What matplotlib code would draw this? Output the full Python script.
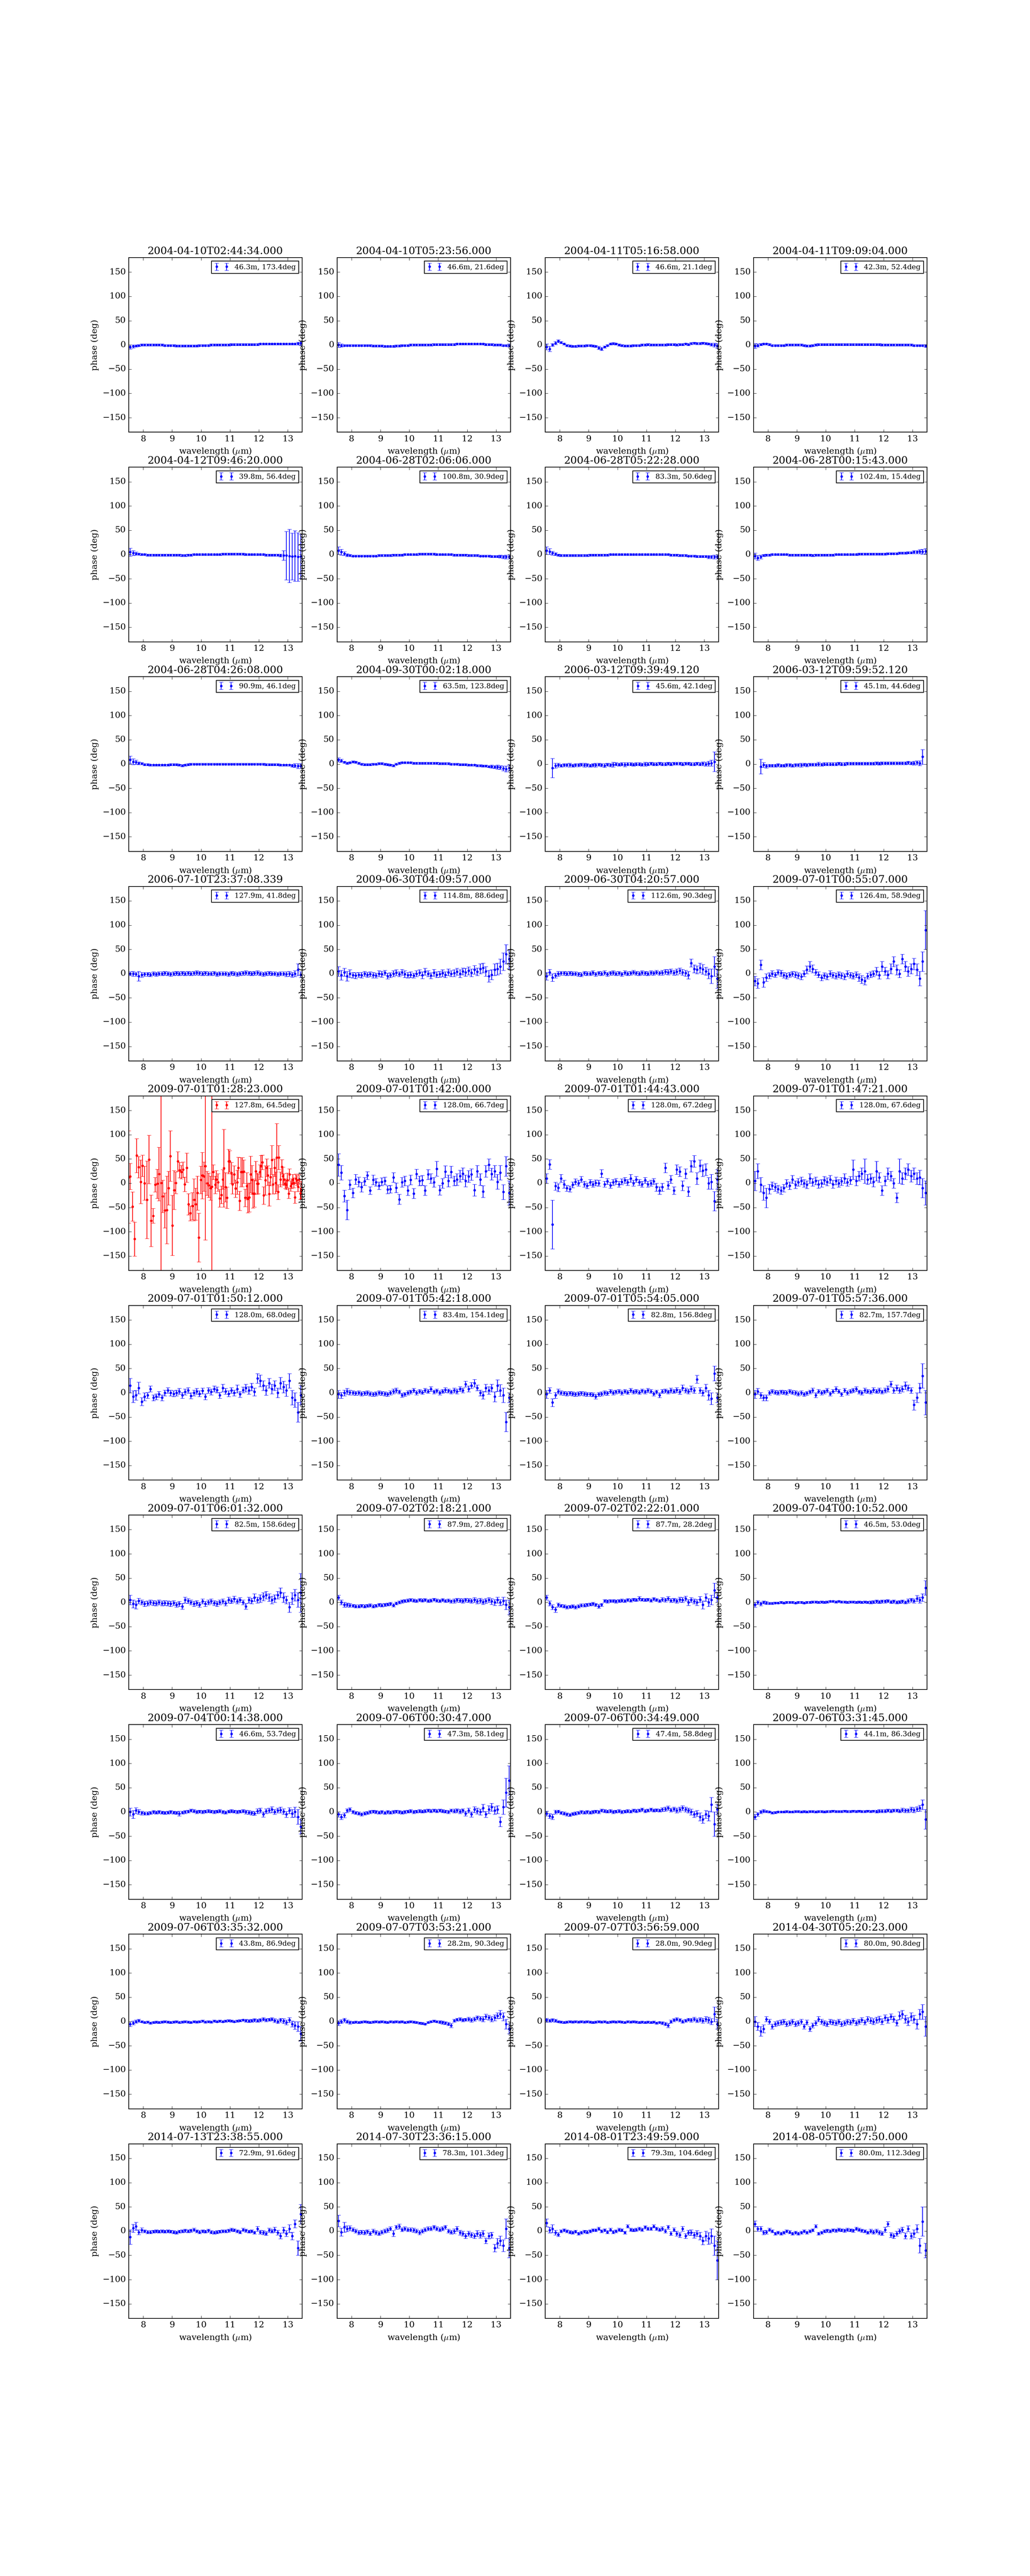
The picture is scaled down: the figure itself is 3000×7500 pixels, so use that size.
import numpy as np
import matplotlib
matplotlib.use("Agg")
import matplotlib.pyplot as plt

plt.style.use("classic")
plt.rcParams["font.family"] = "serif"
plt.rcParams["font.serif"] = ["DejaVu Serif"]
plt.rcParams["mathtext.fontset"] = "cm"

# titles (observation time) and legend labels (baseline, PA)
titles = [
    "2004-04-10T02:44:34.000", "2004-04-10T05:23:56.000", "2004-04-11T05:16:58.000", "2004-04-11T09:09:04.000",
    "2004-04-12T09:46:20.000", "2004-06-28T02:06:06.000", "2004-06-28T05:22:28.000", "2004-06-28T00:15:43.000",
    "2004-06-28T04:26:08.000", "2004-09-30T00:02:18.000", "2006-03-12T09:39:49.120", "2006-03-12T09:59:52.120",
    "2006-07-10T23:37:08.339", "2009-06-30T04:09:57.000", "2009-06-30T04:20:57.000", "2009-07-01T00:55:07.000",
    "2009-07-01T01:28:23.000", "2009-07-01T01:42:00.000", "2009-07-01T01:44:43.000", "2009-07-01T01:47:21.000",
    "2009-07-01T01:50:12.000", "2009-07-01T05:42:18.000", "2009-07-01T05:54:05.000", "2009-07-01T05:57:36.000",
    "2009-07-01T06:01:32.000", "2009-07-02T02:18:21.000", "2009-07-02T02:22:01.000", "2009-07-04T00:10:52.000",
    "2009-07-04T00:14:38.000", "2009-07-06T00:30:47.000", "2009-07-06T00:34:49.000", "2009-07-06T03:31:45.000",
    "2009-07-06T03:35:32.000", "2009-07-07T03:53:21.000", "2009-07-07T03:56:59.000", "2014-04-30T05:20:23.000",
    "2014-07-13T23:38:55.000", "2014-07-30T23:36:15.000", "2014-08-01T23:49:59.000", "2014-08-05T00:27:50.000",
]
labels = [
    "46.3m, 173.4deg", "46.6m, 21.6deg", "46.6m, 21.1deg", "42.3m, 52.4deg",
    "39.8m, 56.4deg", "100.8m, 30.9deg", "83.3m, 50.6deg", "102.4m, 15.4deg",
    "90.9m, 46.1deg", "63.5m, 123.8deg", "45.6m, 42.1deg", "45.1m, 44.6deg",
    "127.9m, 41.8deg", "114.8m, 88.6deg", "112.6m, 90.3deg", "126.4m, 58.9deg",
    "127.8m, 64.5deg", "128.0m, 66.7deg", "128.0m, 67.2deg", "128.0m, 67.6deg",
    "128.0m, 68.0deg", "83.4m, 154.1deg", "82.8m, 156.8deg", "82.7m, 157.7deg",
    "82.5m, 158.6deg", "87.9m, 27.8deg", "87.7m, 28.2deg", "46.5m, 53.0deg",
    "46.6m, 53.7deg", "47.3m, 58.1deg", "47.4m, 58.8deg", "44.1m, 86.3deg",
    "43.8m, 86.9deg", "28.2m, 90.3deg", "28.0m, 90.9deg", "80.0m, 90.8deg",
    "72.9m, 91.6deg", "78.3m, 101.3deg", "79.3m, 104.6deg", "80.0m, 112.3deg",
]

# common wavelength grid (micron)
wl = [7.55, 7.65, 7.75, 7.85, 7.95, 8.05, 8.15, 8.25, 8.35, 8.45,
      8.55, 8.65, 8.75, 8.85, 8.95, 9.05, 9.15, 9.25, 9.35, 9.45,
      9.55, 9.65, 9.75, 9.85, 9.95, 10.05, 10.15, 10.25, 10.35, 10.45,
      10.55, 10.65, 10.75, 10.85, 10.95, 11.05, 11.15, 11.25, 11.35, 11.45,
      11.55, 11.65, 11.75, 11.85, 11.95, 12.05, 12.15, 12.25, 12.35, 12.45,
      12.55, 12.65, 12.75, 12.85, 12.95, 13.05, 13.15, 13.25, 13.35, 13.45]

# the one flagged (red) observation has its own sampling
wl_red = [7.50, 7.55, 7.63, 7.70, 7.77, 7.84, 7.92, 7.98, 8.05, 8.13, 8.20,
          8.27, 8.34, 8.41, 8.48, 8.54, 8.62, 8.68, 8.75, 8.82, 8.88,
          8.94, 9.01, 9.07, 9.13, 9.20, 9.26, 9.32, 9.38, 9.44, 9.51,
          9.57, 9.63, 9.70, 9.76, 9.81, 9.87, 9.92, 9.99, 10.04, 10.10,
          10.15, 10.21, 10.27, 10.32, 10.37, 10.42, 10.49, 10.53, 10.59, 10.64,
          10.70, 10.75, 10.79, 10.85, 10.89, 10.95, 10.99, 11.05, 11.09, 11.15,
          11.19, 11.25, 11.29, 11.34, 11.38, 11.43, 11.48, 11.53, 11.58, 11.62,
          11.67, 11.71, 11.76, 11.80, 11.85, 11.89, 11.94, 11.98, 12.03, 12.07,
          12.12, 12.17, 12.22, 12.27, 12.31, 12.36, 12.40, 12.45, 12.49, 12.54,
          12.58, 12.62, 12.66, 12.69, 12.75, 12.79, 12.83, 12.86, 12.91, 12.95,
          12.99, 13.03, 13.06, 13.10, 13.14, 13.17, 13.21, 13.25, 13.28, 13.32,
          13.35, 13.39, 13.43, 13.46]
phase_red = [13, 14, -48, -115, 57, 33, 3, 36, 0, -34, 49,
             -77, -67, -3, -1, 19, 1, -27, -56, -55, -10,
             56, -87, -14, 1, 45, 27, 23, 28, -2, 32,
             -43, -62, -47, -34, -43, -20, -112, 7, 16, 14,
             35, 0, -4, -10, -7, 23, -3, 8, 2, -31,
             -24, 8, 31, -8, -30, 45, 45, 21, -2, 18,
             -11, 2, 32, -36, 23, 23, 24, -30, -6, -31,
             -29, 18, 7, -21, -21, 25, -1, -1, 23, 35,
             43, -25, 6, 32, 16, -22, 13, 48, -2, 32,
             1, 53, -18, 53, 8, 34, 15, 8, -1, -3,
             6, -21, 18, -6, -1, 8, 1, -29, 9, 6,
             -7, 8, -21, -14]
err_red = [95, 27, 30, 35, 35, 22, 45, 22, 35, 80, 50,
           53, 15, 15, 30, 55, 500, 33, 36, 70, 35,
           52, 62, 40, 22, 20, 16, 14, 16, 15, 30,
           22, 15, 28, 43, 33, 35, 50, 28, 48, 30,
           152, 25, 25, 25, 500, 15, 18, 18, 18, 18,
           18, 20, 80, 30, 22, 25, 22, 22, 20, 18,
           18, 25, 22, 20, 30, 30, 24, 18, 28, 30,
           30, 38, 30, 30, 28, 20, 22, 20, 15, 22,
           15, 18, 30, 18, 20, 25, 18, 30, 20, 18,
           22, 70, 15, 25, 15, 15, 18, 12, 10, 10,
           15, 10, 12, 10, 10, 10, 10, 12, 10, 10,
           10, 10, 12, 18]

# phase (deg) and error per observation, on the common grid
phase_01 = [-4, -3, -2, -1, 0, 0, 0, 0, 0, 0,
            0, 0, -1, -1, -1, -1, -2, -2, -2, -2,
            -2, -2, -2, -2, -1, -1, -1, -1, 0, 0,
            0, 0, 0, 0, 0, 1, 1, 1, 1, 1,
            1, 1, 1, 1, 1, 2, 2, 2, 2, 2,
            2, 2, 2, 2, 2, 2, 2, 2, 3, 4]
err_01 = [4, 3, 2, 2, 2, 2, 2, 2, 2, 2,
          2, 2, 2, 2, 2, 2, 2, 2, 2, 2,
          2, 2, 2, 2, 2, 2, 2, 2, 2, 2,
          2, 2, 2, 2, 2, 2, 2, 2, 2, 2,
          2, 2, 2, 2, 2, 2, 2, 2, 2, 2,
          2, 2, 2, 2, 2, 2, 2, 2, 3, 5]
phase_02 = [0, -1, -1, -1, -1, -1, -1, -1, -1, -1,
            -1, -1, -2, -2, -2, -2, -3, -3, -3, -3,
            -2, -2, -1, -1, -1, 0, 0, 0, 0, 0,
            0, 0, 0, 1, 1, 1, 1, 1, 1, 1,
            1, 2, 2, 2, 2, 2, 2, 2, 2, 2,
            2, 1, 1, 1, 0, 0, 0, -1, -1, -1]
err_02 = [5, 3, 2, 2, 2, 2, 2, 2, 2, 2,
          2, 2, 2, 2, 2, 2, 2, 2, 2, 2,
          2, 2, 2, 2, 2, 2, 2, 2, 2, 2,
          2, 2, 2, 2, 2, 2, 2, 2, 2, 2,
          2, 2, 2, 2, 2, 2, 2, 2, 2, 2,
          2, 2, 2, 2, 2, 2, 2, 2, 2, 3]
phase_03 = [-4, -8, 0, 4, 8, 5, 2, -1, -2, -3,
            -3, -2, -2, -2, -1, -1, -2, -3, -6, -8,
            -4, -1, 2, 3, 2, 0, -1, -2, -2, -2,
            -1, -1, -1, 0, 0, 1, 0, 0, 0, 0,
            0, 0, 1, 1, 1, 0, 1, 1, 2, 1,
            3, 4, 3, 3, 4, 3, 2, 1, 0, -2]
err_03 = [6, 5, 3, 3, 3, 2, 2, 2, 2, 2,
          2, 2, 2, 2, 2, 2, 2, 2, 3, 3,
          2, 2, 2, 2, 2, 2, 2, 2, 2, 2,
          2, 2, 2, 2, 2, 2, 2, 2, 2, 2,
          2, 2, 2, 2, 2, 2, 2, 2, 2, 2,
          2, 2, 2, 2, 2, 2, 2, 3, 4, 5]
phase_04 = [-2, -1, 1, 2, 2, 1, -1, -1, -1, -1,
            -1, 0, 0, 0, 0, 0, 0, -1, -2, -2,
            -1, 0, 1, 1, 1, 1, 1, 1, 1, 1,
            1, 1, 1, 1, 1, 1, 1, 1, 1, 1,
            1, 1, 1, 1, 0, 0, 0, 0, 0, 0,
            0, 0, 0, 0, 0, -1, -1, -1, -1, -2]
err_04 = [5, 3, 2, 2, 2, 2, 2, 2, 2, 2,
          2, 2, 2, 2, 2, 2, 2, 2, 2, 2,
          2, 2, 2, 2, 2, 2, 2, 2, 2, 2,
          2, 2, 2, 2, 2, 2, 2, 2, 2, 2,
          2, 2, 2, 2, 2, 2, 2, 2, 2, 2,
          2, 2, 2, 2, 2, 2, 2, 2, 2, 3]
phase_05 = [5, 3, 2, 1, 0, 0, -1, -1, -1, -1,
            -1, -1, -1, -1, -1, -1, -1, -1, -2, -2,
            -1, -1, 0, 0, 0, 0, 0, 0, 0, 0,
            0, 0, 1, 1, 1, 1, 1, 1, 1, 1,
            0, 0, 0, 0, 0, 0, 0, -1, -1, -1,
            -1, -1, -2, -2, -2, -3, -4, -3, -5, -4]
err_05 = [8, 5, 3, 2, 2, 2, 2, 2, 2, 2,
          2, 2, 2, 2, 2, 2, 2, 2, 2, 2,
          2, 2, 2, 2, 2, 2, 2, 2, 2, 2,
          2, 2, 2, 2, 2, 2, 2, 2, 2, 2,
          2, 2, 2, 2, 2, 2, 2, 2, 2, 2,
          2, 2, 3, 10, 50, 55, 48, 52, 50, 45]
phase_06 = [8, 5, 2, -1, -2, -3, -3, -3, -3, -3,
            -3, -3, -3, -3, -2, -2, -2, -2, -2, -1,
            -1, -1, -1, 0, 0, 0, 0, 0, 1, 1,
            1, 1, 1, 1, 0, 0, 0, 0, 0, 0,
            -1, -1, -1, -1, -1, -2, -2, -2, -2, -3,
            -3, -3, -3, -4, -4, -4, -4, -5, -5, -5]
err_06 = [8, 6, 4, 3, 2, 2, 2, 2, 2, 2,
          2, 2, 2, 2, 2, 2, 2, 2, 2, 2,
          2, 2, 2, 2, 2, 2, 2, 2, 2, 2,
          2, 2, 2, 2, 2, 2, 2, 2, 2, 2,
          2, 2, 2, 2, 2, 2, 2, 2, 2, 2,
          2, 2, 2, 2, 2, 2, 3, 3, 4, 4]
phase_07 = [8, 6, 3, 1, -1, -2, -2, -2, -2, -2,
            -2, -2, -2, -2, -2, -1, -1, -1, -1, -1,
            -1, -1, 0, 0, 0, 0, 0, 0, 0, 0,
            0, 0, 0, 0, 0, 0, 0, 0, 0, 0,
            0, 0, 0, -1, -1, -1, -2, -2, -2, -3,
            -3, -3, -4, -4, -4, -4, -5, -5, -5, -5]
err_07 = [8, 6, 4, 3, 2, 2, 2, 2, 2, 2,
          2, 2, 2, 2, 2, 2, 2, 2, 2, 2,
          2, 2, 2, 2, 2, 2, 2, 2, 2, 2,
          2, 2, 2, 2, 2, 2, 2, 2, 2, 2,
          2, 2, 2, 2, 2, 2, 2, 2, 2, 2,
          2, 2, 2, 2, 2, 2, 3, 3, 4, 4]
phase_08 = [-3, -7, -5, -2, -1, -1, 0, 0, 0, 0,
            0, 0, -1, -1, -1, -1, -1, -1, -1, -1,
            -2, -1, -1, -1, -1, -1, -1, -1, 0, 0,
            0, 0, 0, 0, 0, 0, 1, 1, 1, 1,
            1, 1, 1, 1, 1, 1, 2, 2, 2, 2,
            3, 3, 3, 4, 4, 5, 5, 6, 6, 7]
err_08 = [6, 5, 4, 2, 2, 2, 2, 2, 2, 2,
          2, 2, 2, 2, 2, 2, 2, 2, 2, 2,
          2, 2, 2, 2, 2, 2, 2, 2, 2, 2,
          2, 2, 2, 2, 2, 2, 2, 2, 2, 2,
          2, 2, 2, 2, 2, 2, 2, 2, 2, 2,
          2, 2, 2, 2, 2, 3, 3, 4, 5, 5]
phase_09 = [9, 5, 4, 2, 1, -1, -1, -2, -2, -2,
            -2, -2, -2, -2, -1, -1, -1, -2, -3, -2,
            -1, 0, 0, 0, 0, 0, 0, 0, 0, 0,
            0, 0, 0, 0, 0, 0, 0, 0, 0, 0,
            0, 0, 0, 0, 0, 0, 0, -1, -1, -1,
            -1, -1, -2, -2, -2, -2, -3, -3, -4, -4]
err_09 = [8, 6, 4, 3, 2, 2, 2, 2, 2, 2,
          2, 2, 2, 2, 2, 2, 2, 2, 2, 2,
          2, 2, 2, 2, 2, 2, 2, 2, 2, 2,
          2, 2, 2, 2, 2, 2, 2, 2, 2, 2,
          2, 2, 2, 2, 2, 2, 2, 2, 2, 2,
          2, 2, 2, 2, 2, 2, 3, 4, 5, 5]
phase_10 = [9, 7, 4, 2, 3, 5, 4, 2, 0, -1,
            -1, -1, 0, 0, 1, 1, 0, -1, -2, -3,
            0, 2, 3, 3, 3, 3, 2, 2, 2, 2,
            2, 2, 2, 2, 2, 1, 1, 1, 1, 0,
            0, 0, -1, -1, -1, -2, -2, -2, -3, -3,
            -4, -4, -5, -5, -6, -6, -7, -9, -10, -8]
err_10 = [4, 3, 2, 2, 2, 2, 2, 2, 2, 2,
          2, 2, 2, 2, 2, 2, 2, 2, 2, 2,
          2, 2, 2, 2, 2, 2, 2, 2, 2, 2,
          2, 2, 2, 2, 2, 2, 2, 2, 2, 2,
          2, 2, 2, 2, 2, 2, 2, 2, 2, 2,
          2, 2, 2, 3, 3, 4, 4, 5, 6, 6]
phase_11 = [None, None, -8, -3, -2, -3, -2, -2, -2, -3,
            -2, -2, -1, -2, -2, -3, -2, -2, -1, -2,
            -3, -1, -2, -1, 0, -1, 0, -1, 0, 0,
            -1, 0, 0, -1, 0, 0, 1, 0, 0, 1,
            0, 0, 1, 0, 1, 1, 1, 0, 1, 1,
            0, 0, 1, 0, 1, 0, 1, 2, 5, None]
err_11 = [0, 0, 20, 5, 4, 3, 3, 3, 4, 3,
          3, 3, 3, 4, 3, 3, 3, 4, 3, 3,
          4, 3, 3, 5, 3, 3, 3, 4, 3, 3,
          3, 3, 3, 3, 4, 3, 3, 3, 3, 3,
          3, 3, 3, 3, 3, 3, 3, 3, 3, 3,
          3, 3, 3, 3, 4, 4, 5, 6, 20, 0]
phase_12 = [None, None, -5, -2, -4, -3, -3, -3, -2, -3,
            -3, -2, -2, -3, -2, -2, -2, -1, -2, -1,
            -1, -1, 0, -1, 0, 0, 0, 0, 0, 1,
            0, 0, 1, 1, 1, 1, 1, 1, 1, 1,
            1, 1, 2, 1, 2, 2, 2, 2, 2, 2,
            2, 2, 2, 3, 2, 2, 3, 2, 15, None]
err_12 = [0, 0, 15, 5, 4, 3, 3, 3, 3, 3,
          3, 3, 3, 3, 3, 3, 4, 3, 3, 3,
          3, 3, 4, 3, 3, 3, 3, 3, 3, 3,
          3, 3, 3, 3, 3, 3, 3, 3, 3, 3,
          3, 3, 3, 3, 3, 3, 3, 3, 3, 3,
          3, 3, 3, 3, 3, 4, 4, 5, 15, 0]
phase_13 = [0, 0, -1, -5, -2, -1, -1, -2, 0, -1,
            0, 0, 1, 0, -1, 0, 1, 0, 1, 0,
            1, 0, 1, 2, 1, 0, 1, 0, 0, 1,
            -1, 0, 0, 0, -1, 1, 0, -1, 0, 1,
            2, 1, 0, 1, 2, 0, -1, 0, 1, 0,
            0, -1, 0, 0, -1, 0, -2, 0, 8, -2]
err_13 = [4, 5, 4, 10, 5, 4, 4, 4, 4, 4,
          4, 4, 4, 4, 4, 4, 4, 4, 4, 4,
          4, 4, 4, 4, 4, 4, 4, 4, 4, 4,
          4, 4, 4, 4, 4, 4, 4, 4, 4, 4,
          4, 4, 4, 4, 4, 4, 4, 4, 4, 4,
          4, 4, 4, 4, 5, 5, 5, 6, 12, 6]
phase_14 = [5, -3, 3, -5, 0, -3, -4, -2, -3, 0,
            -2, -1, -3, -4, 0, -1, 2, -5, -3, 0,
            2, -1, 3, -1, -3, -2, -4, 0, 2, -3,
            4, 0, -4, 2, -2, -1, 1, -2, 3, 0,
            1, 4, 0, 5, 3, 6, 2, 8, 4, 10,
            12, 5, -5, -2, 8, 10, 15, 25, 40, 30]
err_14 = [10, 10, 8, 10, 8, 6, 6, 5, 6, 5,
          5, 5, 6, 5, 6, 6, 5, 6, 5, 6,
          6, 5, 6, 7, 6, 6, 5, 6, 6, 7,
          7, 6, 6, 7, 6, 6, 7, 6, 7, 6,
          7, 7, 8, 7, 8, 8, 8, 9, 8, 10,
          10, 10, 12, 10, 12, 12, 15, 18, 20, 20]
phase_15 = [-5, 3, -8, -4, 0, 1, 1, 0, 1, 0,
            0, -1, -2, 1, 0, 0, 2, -1, 1, 0,
            2, -1, 1, 2, 0, 1, -1, 2, 0, 1,
            3, 1, 0, 2, 1, 0, 2, 1, 3, 1,
            2, 4, 3, 5, 2, 4, 6, 3, 1, -3,
            22, 10, 8, 12, 9, 5, 0, -5, 15, -10]
err_15 = [8, 6, 8, 5, 5, 4, 4, 4, 4, 4,
          4, 4, 4, 4, 4, 4, 4, 4, 4, 4,
          4, 4, 4, 4, 4, 4, 4, 4, 4, 4,
          4, 4, 4, 4, 4, 4, 4, 4, 4, 4,
          5, 5, 5, 5, 5, 6, 6, 6, 6, 8,
          8, 8, 8, 10, 10, 8, 10, 15, 20, 20]
phase_16 = [-15, -20, 18, -18, -8, -4, 0, -2, 3, 1,
            -3, -5, -2, 0, -2, -4, -6, 0, 8, 15,
            10, 3, -2, -8, -4, -6, 0, -3, -5, -2,
            -4, -6, 0, -3, -5, -2, -8, -12, -15, -5,
            -2, 0, 5, -3, 15, 5, -2, 10, 25, 8,
            0, 30, 15, 5, 10, 20, 8, -10, 25, 90]
err_16 = [10, 10, 10, 10, 8, 6, 6, 5, 5, 6,
          6, 6, 5, 5, 6, 6, 6, 6, 8, 10,
          8, 6, 6, 6, 6, 6, 6, 6, 6, 6,
          6, 6, 6, 6, 6, 6, 8, 8, 8, 6,
          6, 6, 8, 8, 10, 8, 8, 10, 10, 10,
          8, 10, 10, 10, 10, 12, 12, 15, 20, 40]
phase_18 = [38, 22, -26, -55, -3, -20, 8, 3, -8, 4,
            16, -15, 7, 2, -5, 3, 5, -13, -12, 12,
            -9, -33, 2, 5, -15, 7, -21, 19, 5, 6,
            -15, 18, 10, 2, 30, -14, 0, 24, 5, 23,
            5, 8, 15, 20, 5, 14, 18, -14, 25, 8,
            -17, 25, 38, 19, 25, 3, 22, -18, 35, -20]
err_18 = [23, 15, 12, 20, 10, 10, 10, 10, 10, 8,
          8, 8, 10, 8, 8, 8, 8, 8, 8, 10,
          10, 10, 10, 10, 10, 10, 10, 10, 10, 10,
          10, 10, 10, 10, 15, 10, 10, 12, 12, 12,
          10, 12, 12, 12, 12, 12, 12, 12, 12, 12,
          12, 12, 12, 12, 12, 15, 15, 15, 20, 25]
phase_19 = [10, 39, -85, -6, -9, 10, -2, -10, -12, -3,
            3, 0, 8, -2, -5, 2, -2, 1, 0, 20,
            -2, 4, -4, 2, 4, -2, 3, 6, 2, 10,
            0, 8, 2, -2, 6, -2, 0, 4, -8, -15,
            -8, 32, -4, 8, -15, 28, 24, -5, 20, -17,
            35, 45, 10, 36, 26, 28, 0, 3, -37, 8]
err_19 = [10, 10, 50, 8, 8, 8, 8, 6, 6, 6,
          6, 6, 6, 6, 6, 6, 6, 6, 6, 8,
          6, 6, 6, 6, 6, 6, 6, 6, 6, 8,
          6, 6, 6, 6, 6, 6, 6, 6, 8, 8,
          8, 10, 8, 8, 8, 10, 10, 10, 10, 10,
          12, 12, 12, 12, 12, 12, 12, 15, 20, 20]
phase_20 = [5, 25, -3, -20, -30, -12, -5, -8, -12, -15,
            -10, 0, -5, 8, -3, 2, 5, 0, -3, 10,
            2, 5, -2, 0, 6, 3, 8, -2, 5, 0,
            4, 10, 2, 6, 28, 5, 15, 20, 25, 8,
            10, 3, 25, 12, -15, 5, 20, 15, 0, -30,
            25, 10, 20, 28, 15, 20, 10, 12, -10, -20]
err_20 = [20, 15, 15, 15, 20, 10, 8, 8, 8, 8,
          8, 8, 8, 8, 8, 8, 8, 8, 8, 10,
          8, 8, 8, 8, 8, 8, 8, 8, 8, 8,
          8, 10, 8, 8, 20, 10, 10, 12, 25, 10,
          10, 10, 20, 10, 10, 10, 12, 10, 10, 10,
          25, 12, 12, 12, 12, 12, 12, 15, 20, 25]
phase_21 = [15, -8, -5, 10, -18, -8, -5, 8, -10, -8,
            -3, -10, 0, 5, 0, -2, 0, 3, -5, 2,
            5, -6, 0, 3, -2, 4, -8, 5, 2, 8,
            6, -5, 10, 3, -2, 5, 0, 8, -3, 6,
            10, 5, 12, 2, 30, 25, 15, 5, 20, 8,
            15, 0, 20, 12, 5, 25, -10, -15, -40, -5]
err_21 = [15, 12, 10, 12, 8, 8, 6, 6, 6, 6,
          6, 6, 6, 6, 6, 6, 6, 6, 6, 6,
          6, 6, 6, 6, 6, 6, 6, 6, 6, 6,
          6, 6, 8, 6, 6, 6, 6, 8, 6, 6,
          8, 8, 8, 8, 10, 12, 10, 10, 10, 10,
          10, 10, 12, 12, 12, 15, 15, 15, 20, 20]
phase_22 = [-3, -5, 0, 3, 1, 0, -1, 0, -2, -1,
            0, -2, -3, -2, 0, -1, -2, -3, 0, 3,
            5, 2, -5, -3, 0, 2, 5, 0, 3, 1,
            5, 3, 8, 2, 4, 0, 3, 6, 4, 2,
            5, 3, 8, 5, 18, 8, 15, 20, 10, 0,
            -5, 10, 5, 10, -8, 15, 5, -5, -60, -10]
err_22 = [8, 6, 6, 6, 5, 4, 4, 4, 4, 4,
          4, 4, 4, 4, 4, 4, 4, 4, 4, 5,
          5, 4, 4, 4, 4, 4, 4, 4, 4, 4,
          4, 4, 5, 4, 4, 4, 4, 5, 4, 4,
          5, 5, 5, 5, 6, 6, 6, 8, 6, 6,
          8, 8, 8, 8, 10, 12, 12, 15, 20, 10]
phase_23 = [-3, 5, -20, -5, 3, 0, -1, -2, -1, -2,
            -3, -2, -1, -2, -3, -3, -4, -8, -3, -2,
            0, -1, 3, 0, 2, 3, 0, 3, 1, 5,
            2, 3, 1, 4, 2, 5, 3, -2, 2, -5,
            3, 4, 2, 5, 3, 6, 2, 10, 5, 3,
            8, 5, 28, 5, 0, 10, -5, -12, 40, -10]
err_23 = [8, 6, 8, 6, 5, 4, 4, 4, 4, 4,
          4, 4, 4, 4, 4, 4, 4, 5, 4, 4,
          4, 4, 4, 4, 4, 4, 4, 4, 4, 4,
          4, 4, 4, 4, 4, 4, 4, 4, 4, 5,
          4, 4, 4, 5, 4, 5, 5, 6, 5, 5,
          6, 6, 8, 6, 6, 8, 10, 12, 15, 10]
phase_24 = [-3, 3, -5, -10, -10, 0, 3, 1, 0, 2,
            1, 0, 3, 1, 0, -2, 0, -3, -1, 2,
            5, -5, 3, 0, 2, 5, -2, 3, 8, 3,
            -3, 5, 0, 3, 5, 8, 2, 0, 5, 3,
            2, 6, 3, 5, 2, 5, 8, 18, 5, 10,
            5, 8, 15, 10, 5, -25, -10, 10, 35, -20]
err_24 = [8, 6, 6, 6, 6, 4, 4, 4, 4, 4,
          4, 4, 4, 4, 4, 4, 4, 4, 4, 4,
          5, 5, 4, 4, 4, 4, 4, 4, 5, 4,
          4, 4, 4, 4, 4, 5, 4, 4, 5, 4,
          4, 5, 4, 5, 4, 5, 6, 6, 6, 6,
          6, 6, 8, 6, 6, 10, 10, 10, 25, 25]
phase_25 = [5, -3, -5, 3, 0, -3, -2, 0, -1, -2,
            0, -2, -1, -2, -3, -1, -5, -3, -8, 5,
            3, 0, -3, -1, -5, 2, -3, 0, 2, -1,
            -3, 0, 2, -2, 5, 3, 7, 2, 5, 0,
            -8, 5, 3, 10, 5, 8, 12, 15, 10, 5,
            8, 15, 20, 10, 5, -10, 8, 15, 5, 20]
err_25 = [10, 8, 8, 6, 5, 5, 5, 5, 5, 5,
          5, 5, 5, 5, 5, 5, 5, 5, 6, 6,
          5, 5, 5, 5, 5, 5, 5, 5, 5, 5,
          5, 5, 5, 5, 6, 5, 6, 5, 5, 5,
          6, 6, 6, 8, 6, 8, 8, 8, 8, 8,
          8, 8, 10, 10, 8, 10, 12, 12, 15, 40]
phase_26 = [10, 0, -5, -5, -6, -7, -8, -8, -7, -8,
            -7, -6, -8, -7, -5, -6, -5, -4, -3, -6,
            -2, 0, 2, 3, 4, 5, 4, 3, 5, 4,
            5, 3, 4, 6, 4, 3, 5, 3, 4, 2,
            3, 5, 4, 3, 5, 4, 3, 5, 2, 4,
            1, 3, 5, 2, 0, 5, 0, 3, -5, -10]
err_26 = [5, 5, 5, 4, 4, 3, 3, 3, 3, 3,
          3, 3, 3, 3, 3, 3, 3, 3, 3, 3,
          3, 3, 3, 3, 3, 3, 3, 3, 3, 3,
          3, 3, 3, 3, 3, 3, 3, 3, 3, 3,
          4, 4, 4, 4, 4, 4, 4, 5, 5, 5,
          5, 5, 5, 6, 6, 6, 6, 8, 10, 15]
phase_27 = [10, -2, -10, -15, -5, -7, -8, -10, -9, -8,
            -10, -8, -6, -6, -5, -4, -3, -5, -8, -5,
            3, 2, 3, 3, 2, 3, 4, 3, 5, 4,
            6, 5, 8, 6, 5, 6, 4, 7, 5, 3,
            6, 5, 8, 4, 5, 3, 6, 5, 8, 0,
            5, 2, 0, 6, -5, 10, 0, 5, 25, 10]
err_27 = [5, 5, 5, 5, 4, 3, 3, 3, 3, 3,
          3, 3, 3, 3, 3, 3, 3, 3, 4, 3,
          3, 3, 3, 3, 3, 3, 3, 3, 3, 3,
          3, 3, 4, 3, 3, 3, 3, 3, 3, 3,
          4, 4, 4, 4, 4, 4, 5, 5, 5, 6,
          5, 5, 6, 6, 8, 8, 8, 10, 15, 10]
phase_28 = [-5, 0, -3, 0, -1, -2, -2, -1, -1, 0,
            -1, 0, 0, 0, -1, 0, 0, -1, 0, 0,
            1, 1, 0, 1, 0, 1, 2, 2, 1, 2,
            1, 1, 0, 1, 1, 0, 1, 0, 1, 0,
            0, 1, 2, 1, 2, 2, 3, 1, 2, 0,
            1, 2, 0, 3, 5, 3, 8, 5, 10, 30]
err_28 = [5, 4, 4, 3, 3, 2, 2, 2, 2, 2,
          2, 2, 2, 2, 2, 2, 2, 2, 2, 2,
          2, 2, 2, 2, 2, 2, 2, 2, 2, 2,
          2, 2, 2, 2, 2, 2, 2, 2, 2, 2,
          3, 3, 3, 3, 3, 3, 3, 3, 3, 3,
          3, 3, 3, 4, 4, 4, 6, 6, 8, 15]
phase_29 = [0, -5, 3, 0, -2, -3, -3, -2, 0, -1,
            0, -1, -2, -1, 0, -1, -2, -3, -1, 0,
            1, 3, 2, 0, 1, 0, 1, 2, 1, 0,
            1, 2, 0, -1, 1, 2, 1, 0, 1, 2,
            0, -1, -2, -3, 2, 3, -5, 2, 3, 5,
            0, 3, 4, 1, -5, 3, -3, 0, -10, -30]
err_29 = [8, 8, 6, 5, 4, 3, 3, 3, 3, 3,
          3, 3, 3, 3, 3, 3, 3, 5, 3, 3,
          3, 3, 3, 3, 3, 3, 3, 3, 3, 3,
          3, 3, 3, 3, 3, 3, 3, 3, 3, 3,
          4, 4, 4, 4, 5, 5, 5, 5, 5, 6,
          5, 5, 6, 6, 6, 6, 8, 10, 15, 15]
phase_30 = [-5, -10, -7, 3, 5, 0, -2, -3, -5, -3,
            -2, 0, 1, 0, -1, 0, -2, 0, -1, 0,
            1, 0, -1, 0, 1, 2, 0, 1, 2, 1,
            2, 3, 2, 3, 2, 3, 2, 1, 0, 3,
            2, 3, 1, 3, -3, 3, -5, 5, 2, 0,
            8, -5, 5, 10, 3, 5, -20, 10, 40, 65]
err_30 = [5, 5, 5, 4, 4, 3, 3, 3, 3, 3,
          3, 3, 3, 3, 3, 3, 3, 3, 3, 3,
          3, 3, 3, 3, 3, 3, 3, 3, 3, 3,
          3, 3, 3, 3, 3, 3, 3, 3, 3, 3,
          4, 4, 4, 4, 5, 5, 5, 6, 6, 6,
          8, 6, 8, 8, 8, 8, 10, 15, 30, 30]
phase_31 = [-3, -8, -10, 0, 1, -2, -3, -5, -6, -4,
            -3, -2, 0, -1, 0, -1, 0, 1, 0, 3,
            2, 1, 2, 0, 1, 2, 0, 1, 2, 1,
            3, 2, 3, 5, 2, 3, 5, 3, 4, 3,
            5, 6, 8, 4, 6, 3, 5, 8, 5, 3,
            0, -5, -3, -10, -15, -5, -8, 15, -25, 5]
err_31 = [5, 5, 5, 4, 3, 3, 3, 3, 3, 3,
          3, 3, 3, 3, 3, 3, 3, 3, 3, 3,
          3, 3, 3, 3, 3, 3, 3, 3, 3, 3,
          3, 3, 3, 3, 3, 3, 3, 3, 3, 3,
          4, 4, 4, 4, 4, 5, 5, 5, 5, 5,
          6, 6, 6, 8, 8, 8, 10, 15, 25, 10]
phase_32 = [-10, -5, 0, 2, 1, 0, -2, -1, 0, 0,
            0, 1, 0, 0, 1, 1, 0, 1, 0, 1,
            1, 0, 1, 1, 0, 1, 1, 2, 1, 1,
            1, 2, 1, 1, 2, 1, 2, 1, 1, 2,
            1, 2, 1, 2, 2, 2, 3, 2, 3, 3,
            2, 4, 3, 3, 5, 4, 6, 8, 15, -15]
err_32 = [5, 4, 3, 3, 2, 2, 2, 2, 2, 2,
          2, 2, 2, 2, 2, 2, 2, 2, 2, 2,
          2, 2, 2, 2, 2, 2, 2, 2, 2, 2,
          2, 2, 2, 2, 2, 2, 2, 2, 2, 2,
          2, 2, 3, 3, 3, 3, 3, 3, 3, 3,
          3, 4, 4, 4, 5, 5, 5, 6, 10, 20]
phase_33 = [-5, -3, 0, 2, 0, -2, -1, -3, -2, -1,
            -2, -1, 0, -1, -2, -1, 0, -2, -1, 0,
            -1, -2, 0, -1, 0, 1, -1, 0, -1, 1,
            0, 1, 0, 1, 2, 1, 0, 1, 2, 3,
            2, 1, 2, 3, 2, 3, 5, 3, 4, 5,
            2, 0, 3, 1, -2, 3, -5, -8, -10, -25]
err_33 = [5, 4, 3, 3, 2, 2, 2, 2, 2, 2,
          2, 2, 2, 2, 2, 2, 2, 2, 2, 2,
          2, 2, 2, 2, 2, 2, 2, 2, 2, 2,
          2, 2, 2, 2, 2, 2, 2, 2, 2, 2,
          3, 3, 3, 3, 3, 3, 3, 3, 3, 3,
          4, 4, 4, 5, 5, 5, 6, 8, 10, 15]
phase_34 = [-3, 0, 3, 0, -2, -2, -1, -2, -1, 0,
            -1, -2, -1, 0, -1, 0, -1, -2, 0, -1,
            0, -1, 0, -2, -1, 0, -1, -2, -3, -4,
            -5, -2, 0, 1, 0, -1, -2, -3, -5, -8,
            2, 4, 5, 3, 4, 5, 3, 5, 8, 6,
            5, 10, 8, 5, 8, 12, 15, 10, -5, -15]
err_34 = [5, 4, 4, 3, 3, 2, 2, 2, 2, 2,
          2, 2, 2, 2, 2, 2, 2, 2, 2, 2,
          2, 2, 2, 2, 2, 2, 2, 2, 2, 2,
          2, 2, 2, 2, 2, 3, 3, 3, 3, 4,
          3, 3, 3, 3, 3, 4, 4, 4, 4, 4,
          5, 5, 5, 5, 6, 6, 8, 8, 10, 10]
phase_35 = [3, 2, 3, 2, 0, -1, -2, -1, 0, -1,
            0, -1, 0, -1, 0, -1, -2, -1, 0, -1,
            0, -2, -1, 0, -1, 0, -1, -2, 0, -1,
            0, -1, -2, -1, -2, -1, -2, -1, -3, -2,
            -3, -5, -8, 0, 3, 5, 3, 0, 2, 4,
            3, 5, 2, 4, 2, 5, 3, 0, 15, -5]
err_35 = [4, 3, 3, 3, 2, 2, 2, 2, 2, 2,
          2, 2, 2, 2, 2, 2, 2, 2, 2, 2,
          2, 2, 2, 2, 2, 2, 2, 2, 2, 2,
          2, 2, 2, 2, 2, 2, 2, 2, 2, 2,
          3, 3, 4, 3, 3, 3, 3, 3, 3, 3,
          4, 4, 4, 4, 5, 5, 6, 6, 15, 10]
phase_36 = [0, -10, -20, -15, 5, 0, -10, -5, -3, -2,
            0, -5, -3, 0, -5, -3, 0, -10, -2, -15,
            -8, -3, 5, 0, -3, -5, 0, -2, -3, 0,
            -5, -3, 0, -2, 2, -3, 0, 3, -2, 5,
            2, 0, 3, 5, 0, 8, 3, 10, 5, -3,
            12, 15, 5, 0, 10, 5, -5, 15, 20, -10]
err_36 = [10, 8, 10, 8, 5, 5, 5, 5, 5, 5,
          5, 5, 5, 5, 5, 5, 5, 5, 5, 5,
          5, 5, 5, 5, 5, 5, 5, 5, 5, 5,
          5, 5, 5, 5, 5, 5, 5, 5, 5, 5,
          6, 6, 6, 6, 6, 6, 6, 6, 6, 6,
          8, 8, 8, 8, 8, 8, 10, 10, 15, 20]
phase_37 = [-12, 6, 10, -2, 2, 0, -2, -2, -1, 0,
            -1, 0, -1, 0, -1, -2, -3, -1, 0, 1,
            0, 1, 3, 0, -2, 0, -1, 1, -2, -3,
            -2, -1, 0, 0, 1, 3, 2, 0, -2, 3,
            1, -1, 0, -3, 5, -2, -3, -5, 2, 0,
            3, -3, -10, 2, -5, 5, -10, 15, -35, 35]
err_37 = [15, 8, 8, 5, 5, 3, 3, 3, 3, 3,
          3, 3, 3, 3, 3, 3, 3, 3, 3, 3,
          3, 3, 3, 3, 3, 3, 3, 3, 3, 3,
          3, 3, 3, 3, 3, 3, 3, 3, 3, 3,
          3, 3, 3, 3, 5, 4, 4, 4, 4, 4,
          5, 5, 6, 6, 6, 8, 8, 8, 15, 20]
phase_38 = [21, -2, 8, 5, 6, 3, 0, -3, -2, -3,
            -1, -5, 0, -3, -5, -2, 0, 2, 5, -5,
            8, 10, 3, 5, 3, 3, 2, 0, -3, 0,
            3, 5, 5, 8, 5, 3, 5, 8, 0, -2,
            0, 5, -3, -5, -10, -5, -8, -10, -5, -8,
            -5, -20, -10, -8, -35, -25, -20, -30, 5, -35]
err_38 = [12, 8, 10, 6, 5, 4, 4, 4, 4, 4,
          4, 4, 4, 4, 4, 4, 4, 4, 4, 6,
          4, 5, 4, 4, 4, 4, 4, 4, 4, 4,
          4, 4, 4, 4, 4, 4, 4, 4, 4, 4,
          5, 5, 5, 5, 5, 5, 5, 5, 6, 6,
          6, 6, 6, 6, 8, 10, 10, 12, 20, 20]
phase_39 = [17, 2, 5, -3, -7, 0, 2, 0, -2, -3,
            -1, -5, -3, -1, -2, 0, 2, 2, 5, 0,
            2, -2, 3, -2, 0, 3, 2, -3, 10, 3,
            2, 3, 5, 3, 8, 5, 5, 10, 5, 3,
            5, 0, 8, -5, 3, -5, -8, 5, -10, -3,
            -3, -8, -5, -10, -20, -10, -15, -10, -30, -60]
err_39 = [8, 6, 8, 5, 4, 3, 3, 3, 3, 3,
          3, 3, 3, 3, 3, 3, 3, 3, 3, 3,
          3, 3, 3, 3, 3, 3, 3, 3, 3, 3,
          3, 3, 3, 3, 3, 3, 3, 3, 3, 3,
          4, 4, 4, 4, 4, 5, 5, 5, 5, 5,
          6, 6, 6, 8, 8, 10, 12, 15, 20, 40]
phase_40 = [15, 5, 5, -3, -2, 3, 0, -5, -3, -5,
            -3, 0, -2, -5, -3, -5, -3, 0, -3, 0,
            2, 10, -5, -3, 0, 1, 0, 2, 1, 3,
            2, 1, 3, 2, 1, 5, 3, 1, 0, -3,
            0, -2, 0, -3, -5, 3, 15, -8, -10, -5,
            0, 3, -10, 5, -10, -5, 5, -30, 20, -40]
err_40 = [6, 5, 5, 4, 4, 3, 3, 3, 3, 3,
          3, 3, 3, 3, 3, 3, 3, 3, 3, 3,
          3, 3, 3, 3, 3, 3, 3, 3, 3, 3,
          3, 3, 3, 3, 3, 3, 3, 3, 3, 3,
          4, 4, 4, 4, 4, 5, 5, 5, 5, 5,
          5, 5, 6, 6, 6, 8, 8, 15, 30, 15]

phases = [phase_01, phase_02, phase_03, phase_04, phase_05, phase_06, phase_07, phase_08,
          phase_09, phase_10, phase_11, phase_12, phase_13, phase_14, phase_15, phase_16,
          phase_red, phase_18, phase_19, phase_20, phase_21, phase_22, phase_23, phase_24,
          phase_25, phase_26, phase_27, phase_28, phase_29, phase_30, phase_31, phase_32,
          phase_33, phase_34, phase_35, phase_36, phase_37, phase_38, phase_39, phase_40]
errors = [err_01, err_02, err_03, err_04, err_05, err_06, err_07, err_08,
          err_09, err_10, err_11, err_12, err_13, err_14, err_15, err_16,
          err_red, err_18, err_19, err_20, err_21, err_22, err_23, err_24,
          err_25, err_26, err_27, err_28, err_29, err_30, err_31, err_32,
          err_33, err_34, err_35, err_36, err_37, err_38, err_39, err_40]
flagged = 16

fig, axes = plt.subplots(10, 4, figsize=(20, 50), dpi=150)

for k, ax in enumerate(axes.flat):
    x = wl_red if k == flagged else wl
    c = "r" if k == flagged else "b"
    y = np.array(phases[k], dtype=float)
    e = np.array(errors[k], dtype=float)
    ax.errorbar(x, y, yerr=e, fmt=".", color=c, ecolor=c, label=labels[k])
    ax.set_xlim(7.5, 13.5)
    ax.set_ylim(-180, 180)
    ax.set_xticks([8, 9, 10, 11, 12, 13])
    ax.set_yticks([-150, -100, -50, 0, 50, 100, 150])
    ax.set_title(titles[k])
    ax.set_xlabel(r"wavelength ($\mu$m)")
    ax.set_ylabel("phase (deg)")
    ax.legend(loc="upper right", fontsize=10, numpoints=2)

fig.savefig("out.png", dpi=150)
